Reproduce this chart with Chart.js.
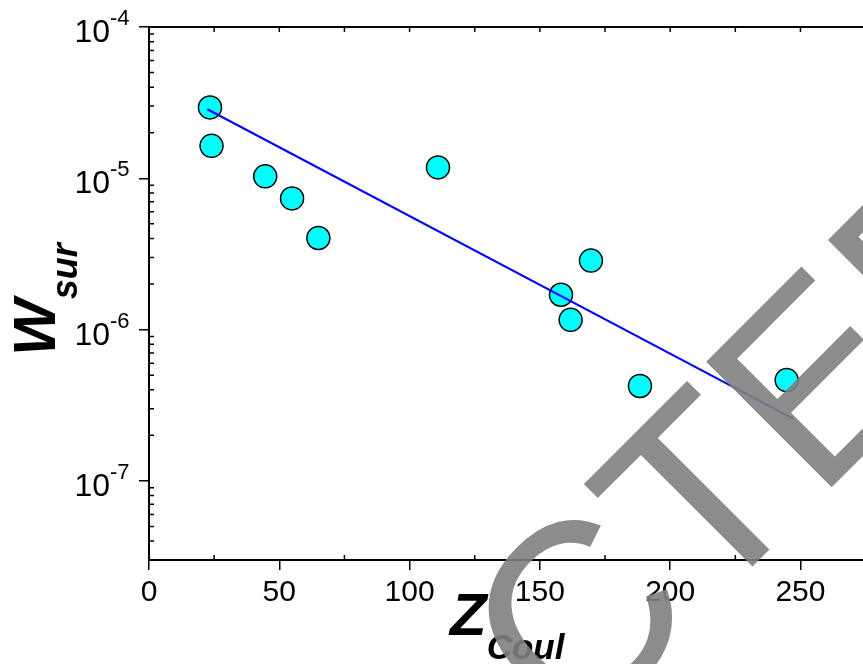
<!DOCTYPE html>
<html lang="en">
<head>
<meta charset="UTF-8">
<title>W_sur vs Z_Coul</title>
<style>
  body { margin: 0; background: #fff; }
  canvas { display: block; }
</style>
</head>
<body>
<canvas id="chart" width="863" height="664"></canvas>
<script src="https://cdn.jsdelivr.net/npm/chart.js@4"></script>
<script>
// measured points (Z_Coul, W_sur)
const zCoul = [23.4, 24.0, 44.6, 54.9, 65.0, 110.9, 158.1, 161.8, 169.6, 188.4, 244.7];
const wSur = [2.94e-5, 1.64e-5, 1.03e-5, 7.36e-6, 4.03e-6, 1.18e-5, 1.70e-6, 1.16e-6, 2.86e-6, 4.24e-7, 4.64e-7];
// fitted line end points
const fitZ = [22.4, 247.2];
const fitW = [2.86e-5, 2.58e-7];
// axes
const xTicks = [0, 50, 100, 150, 200, 250];
const xMinor = [25, 75, 125, 175, 225];
const yTicks = [1e-7, 1e-6, 1e-5, 1e-4];
const yExponents = ['-7', '-6', '-5', '-4'];
const watermark = 'RETRACTED';

const FONT = 'Arial, "Liberation Sans", sans-serif';

const extras = {
  id: 'extras',
  afterDraw(chart) {
    const ctx = chart.ctx;
    const xs = chart.scales.x, ys = chart.scales.y;
    const a = chart.chartArea;
    ctx.save();
    ctx.strokeStyle = '#000';

    // top frame
    ctx.lineWidth = 2;
    ctx.beginPath();
    ctx.moveTo(a.left, a.top);
    ctx.lineTo(a.right, a.top);
    ctx.stroke();

    // small inward ticks
    ctx.lineWidth = 1.5;
    ctx.beginPath();
    xMinor.forEach(v => {
      const x = xs.getPixelForValue(v);
      ctx.moveTo(x, a.bottom); ctx.lineTo(x, a.bottom - 5);
    });
    xTicks.concat(xMinor).forEach(v => {
      const x = xs.getPixelForValue(v);
      ctx.moveTo(x, a.top); ctx.lineTo(x, a.top + 5);
    });
    for (let e = -8; e <= -5; e++) {
      for (let m = 2; m <= 9; m++) {
        const v = m * Math.pow(10, e);
        if (v < ys.min || v > ys.max) continue;
        const y = ys.getPixelForValue(v);
        ctx.moveTo(a.left, y); ctx.lineTo(a.left + 5, y);
      }
    }
    ctx.stroke();

    // y tick labels 10^n
    ctx.fillStyle = '#000';
    ctx.textBaseline = 'alphabetic';
    yTicks.forEach((v, i) => {
      const y = ys.getPixelForValue(v);
      ctx.font = '32px ' + FONT;
      ctx.textAlign = 'right';
      ctx.fillText('10', 110, y + 15);
      ctx.font = '22px ' + FONT;
      ctx.textAlign = 'left';
      ctx.fillText(yExponents[i], 110, y - 2);
    });

    // y title W_sur
    ctx.save();
    ctx.translate(55, 356);
    ctx.rotate(-Math.PI / 2);
    ctx.font = 'italic bold 60px ' + FONT;
    ctx.fillText('W', 0, 0);
    const wW = ctx.measureText('W').width;
    ctx.font = 'italic bold 36px ' + FONT;
    ctx.fillText('sur', wW, 22);
    ctx.restore();

    // x title Z_Coul
    ctx.font = 'italic bold 60px ' + FONT;
    ctx.fillText('Z', 450, 635);
    const wZ = ctx.measureText('Z').width;
    ctx.font = 'italic bold 35px ' + FONT;
    ctx.fillText('Coul', 450 + wZ, 659);

    // watermark, anchored on the stem of the second T
    ctx.save();
    ctx.translate(761, 558);
    ctx.rotate(-Math.PI / 4);
    ctx.font = '258px ' + FONT;
    const off = ctx.measureText('RETRAC').width + ctx.measureText('T').width / 2;
    ctx.fillStyle = 'rgba(128,128,128,0.9)';
    ctx.textAlign = 'left';
    ctx.fillText(watermark, -off, 0);
    ctx.restore();

    ctx.restore();
  }
};

new Chart(document.getElementById('chart'), {
  type: 'scatter',
  data: {
    datasets: [
      {
        type: 'line',
        data: fitZ.map((x, i) => ({ x: x, y: fitW[i] })),
        borderColor: '#0000ff',
        borderWidth: 2,
        pointRadius: 0,
        fill: false,
        order: 0
      },
      {
        data: zCoul.map((x, i) => ({ x: x, y: wSur[i] })),
        backgroundColor: '#00ffff',
        borderColor: '#000',
        borderWidth: 1.5,
        pointRadius: 11.5,
        order: 1
      }
    ]
  },
  options: {
    responsive: false,
    animation: false,
    devicePixelRatio: 1,
    layout: { autoPadding: false, padding: { top: 27, right: 0, bottom: 0, left: 0 } },
    plugins: { legend: { display: false }, tooltip: { enabled: false } },
    scales: {
      x: {
        type: 'linear',
        min: 0,
        max: 274,
        afterBuildTicks: s => { s.ticks = xTicks.map(v => ({ value: v })); },
        afterFit: s => { s.height = 104; s.paddingLeft = 0; s.paddingRight = 0; },
        border: { display: true, color: '#000', width: 2 },
        grid: { display: true, drawOnChartArea: false, drawTicks: true, tickLength: 10, color: '#000', lineWidth: 1.5 },
        ticks: { color: '#000', font: { size: 30, family: FONT }, padding: 5, maxRotation: 0, autoSkip: false }
      },
      y: {
        type: 'logarithmic',
        min: 3.2e-8,
        max: 1e-4,
        afterBuildTicks: s => { s.ticks = yTicks.map(v => ({ value: v })); },
        afterFit: s => { s.width = 149; s.paddingTop = 0; s.paddingBottom = 0; },
        border: { display: true, color: '#000', width: 2 },
        grid: { display: true, drawOnChartArea: false, drawTicks: true, tickLength: 10, color: '#000', lineWidth: 1.5 },
        ticks: { display: false }
      }
    }
  },
  plugins: [extras]
});
</script>
</body>
</html>
